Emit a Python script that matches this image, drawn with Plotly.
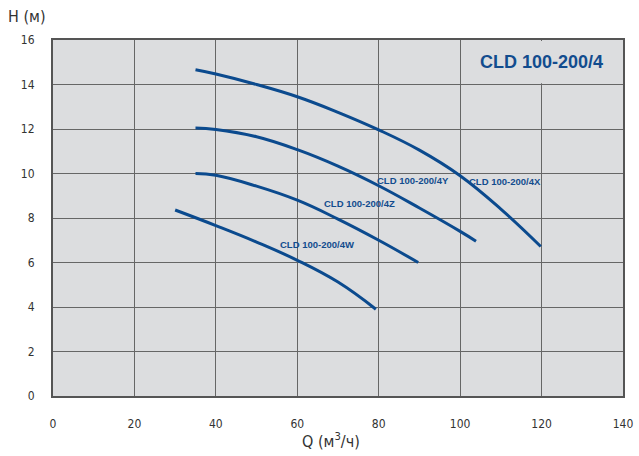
import plotly.graph_objects as go

# Data
q_x = [35, 40, 50, 60, 70, 80, 90, 100, 110, 119.8]
h_x = [14.66, 14.47, 14.0, 13.45, 12.75, 11.96, 11.05, 9.9, 8.4, 6.72]

q_y = [35, 40, 50, 60, 70, 80, 90, 100, 103.9]
h_y = [12.04, 11.98, 11.65, 11.07, 10.33, 9.45, 8.45, 7.4, 6.96]

q_z = [35, 40, 50, 60, 70, 80, 89.7]
h_z = [10.0, 9.92, 9.43, 8.8, 7.95, 7.0, 6.0]

q_w = [30, 40, 50, 60, 70, 79.3]
h_w = [8.36, 7.66, 6.92, 6.1, 5.12, 3.9]

series_names = ["CLD 100-200/4X", "CLD 100-200/4Y", "CLD 100-200/4Z", "CLD 100-200/4W"]
label_q = [111, 88.5, 75.4, 64.9]
label_h = [9.66, 9.7, 8.63, 6.83]

x_ticks = [0, 20, 40, 60, 80, 100, 120, 140]
y_ticks = [0, 2, 4, 6, 8, 10, 12, 14, 16]

title_text = "CLD 100-200/4"

LINE_COLOR = "#0b4a8e"
TEXT_COLOR = "#124c8e"

fig = go.Figure()
for qs, hs, name in zip([q_x, q_y, q_z, q_w], [h_x, h_y, h_z, h_w], series_names):
    fig.add_trace(go.Scatter(x=qs, y=hs, mode="lines", name=name,
                             line=dict(color=LINE_COLOR, width=3, shape="spline", smoothing=1.2),
                             showlegend=False, hoverinfo="skip"))

for name, lq, lh in zip(series_names, label_q, label_h):
    fig.add_annotation(x=lq, y=lh, text="<b>" + name + "</b>", showarrow=False,
                       font=dict(family="Liberation Sans, Arial", size=9.5, color=TEXT_COLOR))

# title box covering upper-right cell
fig.add_shape(type="rect", x0=100.35, x1=139.6, y0=14.06, y1=15.95, layer="between",
              line=dict(width=0), fillcolor="#dcdddf")
fig.add_annotation(x=120, y=15.0, text="<b>" + title_text + "</b>", showarrow=False,
                   font=dict(family="Liberation Sans, Arial", size=18, color=TEXT_COLOR))

axis_title_font = dict(family="Liberation Sans Narrow, DejaVu Sans Condensed, Arial", size=16, color="#333333")
# axis titles
fig.add_annotation(xref="paper", yref="paper", x=-0.083, y=1.065, xanchor="left", yanchor="middle",
                   text="H (м)", showarrow=False, font=axis_title_font)
fig.add_annotation(xref="paper", yref="paper", x=0.488, y=-0.124, xanchor="center", yanchor="middle",
                   text="Q (м<sup>3</sup>/ч)", showarrow=False, font=axis_title_font)

tick_font = dict(family="Liberation Sans Narrow, DejaVu Sans Condensed, Arial", size=12, color="#333333")

fig.update_xaxes(range=[0, 140], tickvals=x_ticks, ticktext=[str(v) for v in x_ticks],
                 showgrid=True, gridcolor="#666666", gridwidth=1,
                 showline=True, linecolor="#555555", linewidth=2, mirror=True,
                 zeroline=False, ticks="", tickfont=tick_font, ticklabelstandoff=16,
                 fixedrange=True)
fig.update_yaxes(range=[0, 16], tickvals=y_ticks, ticktext=[str(v) for v in y_ticks],
                 showgrid=True, gridcolor="#666666", gridwidth=1,
                 showline=True, linecolor="#555555", linewidth=2, mirror=True,
                 zeroline=False, ticks="", tickfont=tick_font, ticklabelstandoff=14,
                 fixedrange=True)

fig.update_layout(width=639, height=456,
                  margin=dict(l=53, r=16, t=40, b=60, autoexpand=False),
                  plot_bgcolor="#dcdddf", paper_bgcolor="#ffffff",
                  showlegend=False)

fig.write_html("out.html", config={"displayModeBar": False},
               post_script="document.body.style.margin='0';document.body.style.overflow='hidden';")
